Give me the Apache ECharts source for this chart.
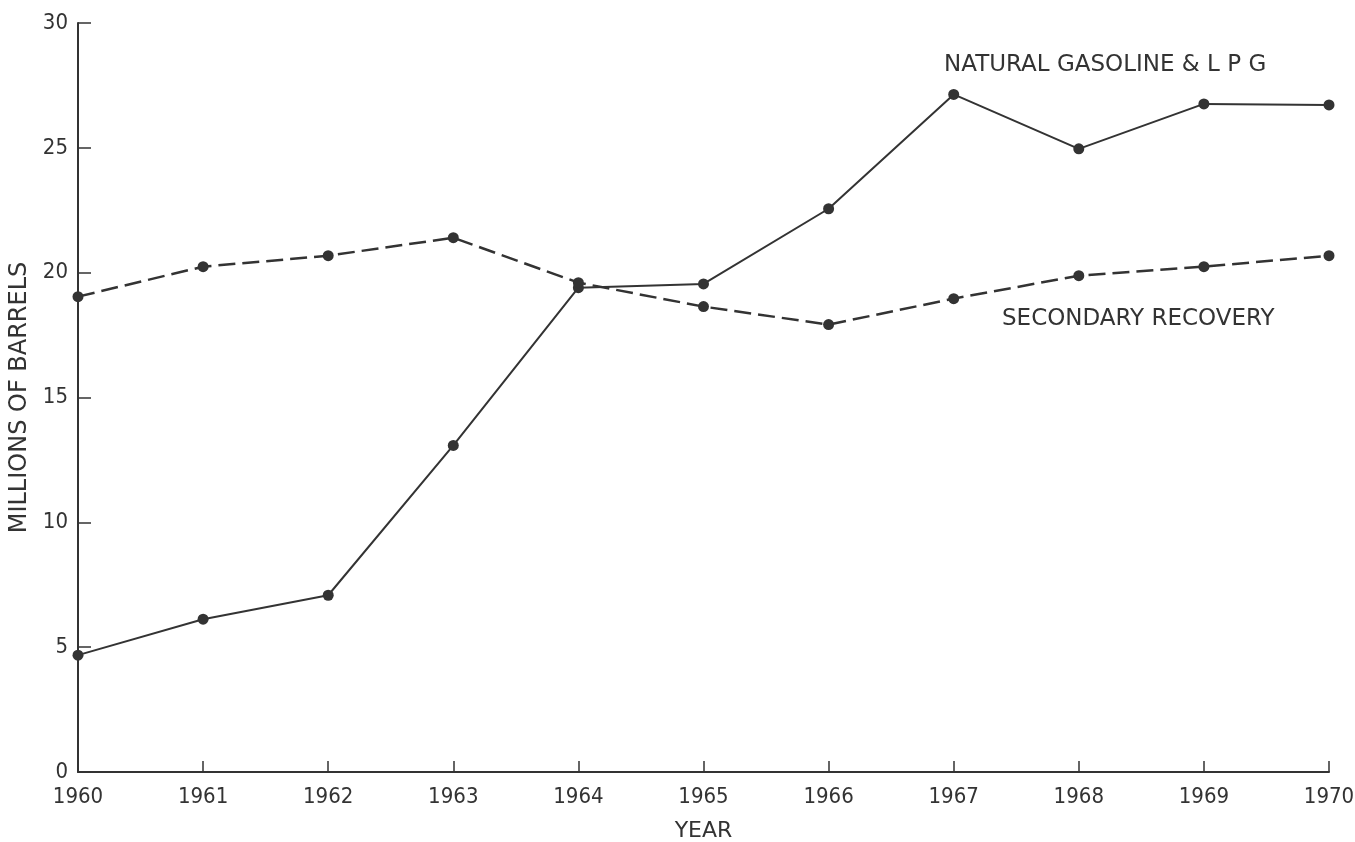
<!DOCTYPE html>
<html>
<head>
<meta charset="utf-8">
<script src="https://cdn.jsdelivr.net/npm/echarts@6/dist/echarts.min.js"></script>
<style>
  html, body { margin: 0; padding: 0; background: #fff; }
  #chart { width: 1355px; height: 842px; }
</style>
</head>
<body>
<div id="chart"></div>
<script>
// Years on the x axis
const years = ['1960', '1961', '1962', '1963', '1964', '1965', '1966', '1967', '1968', '1969', '1970'];

// Millions of barrels
const naturalGasoline = [4.68, 6.12, 7.08, 13.08, 19.4, 19.55, 22.56, 27.14, 24.96, 26.76, 26.72];
const secondaryRecovery = [19.04, 20.24, 20.68, 21.4, 19.6, 18.64, 17.92, 18.96, 19.88, 20.24, 20.68];

const yTicks = [0, 5, 10, 15, 20, 25, 30];

const ink = '#333';
const tickFont = '"DejaVu Sans Condensed", "DejaVu Sans", sans-serif';
const textFont = '"DejaVu Sans", sans-serif';

const chart = echarts.init(document.getElementById('chart'));

const option = {
    backgroundColor: '#fff',
    animation: false,
    grid: {
        left: 78,
        right: 26,
        top: 23,
        bottom: 70,
        containLabel: false,
        outerBoundsMode: 'none'
    },
    xAxis: {
        type: 'category',
        data: years,
        boundaryGap: false,
        name: 'YEAR',
        nameLocation: 'middle',
        nameGap: 48,
        nameTextStyle: { color: ink, fontSize: 22, fontFamily: textFont },
        axisLine: { lineStyle: { color: ink, width: 2 } },
        axisTick: { inside: true, length: 11, interval: 0, lineStyle: { color: ink, width: 1.5 } },
        axisLabel: { color: ink, fontSize: 22, fontFamily: tickFont, margin: 14, interval: 0 },
        splitLine: { show: false }
    },
    yAxis: {
        type: 'value',
        min: yTicks[0],
        max: yTicks[yTicks.length - 1],
        interval: 5,
        name: 'MILLIONS OF BARRELS',
        nameLocation: 'middle',
        nameGap: 42,
        nameRotate: 90,
        nameTextStyle: { color: ink, fontSize: 24, fontFamily: textFont },
        axisLine: { show: true, lineStyle: { color: ink, width: 2 } },
        axisTick: { show: true, inside: true, length: 13, lineStyle: { color: ink, width: 1.5 } },
        axisLabel: { color: ink, fontSize: 22, fontFamily: tickFont, margin: 10 },
        splitLine: { show: false }
    },
    series: [
        {
            name: 'NATURAL GASOLINE & L P G',
            type: 'line',
            data: naturalGasoline,
            symbol: 'circle',
            symbolSize: 11,
            lineStyle: { color: ink, width: 2 },
            itemStyle: { color: ink }
        },
        {
            name: 'SECONDARY RECOVERY',
            type: 'line',
            data: secondaryRecovery,
            symbol: 'circle',
            symbolSize: 11,
            lineStyle: { color: ink, width: 2.5, type: [17, 7] },
            itemStyle: { color: ink }
        }
    ],
    graphic: [
        {
            type: 'text',
            left: 944,
            top: 54,
            style: { text: 'NATURAL GASOLINE & L P G', fill: ink, fontSize: 23, fontFamily: textFont }
        },
        {
            type: 'text',
            left: 1002,
            top: 308,
            style: { text: 'SECONDARY RECOVERY', fill: ink, fontSize: 23, fontFamily: textFont }
        }
    ]
};

chart.setOption(option);
</script>
</body>
</html>
